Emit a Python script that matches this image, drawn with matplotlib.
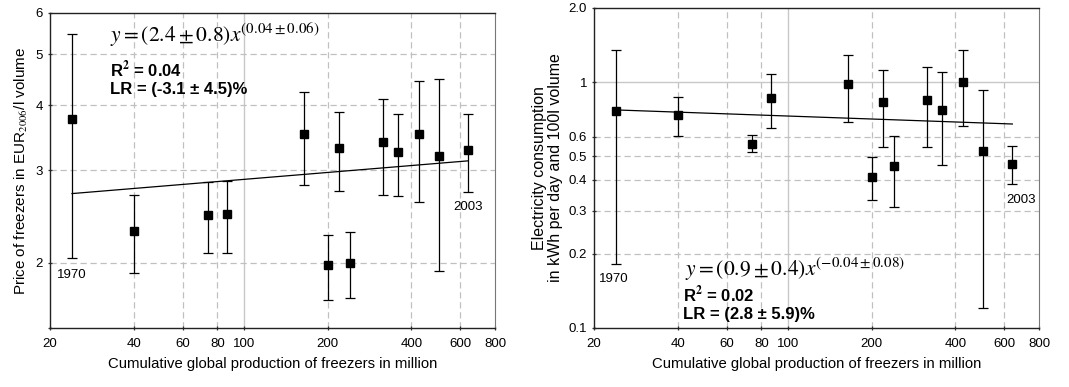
import numpy as np
import matplotlib.pyplot as plt
from matplotlib.ticker import FixedLocator, FixedFormatter, NullLocator

plt.rcParams['font.family'] = ['Liberation Sans', 'DejaVu Sans']
plt.rcParams['mathtext.fontset'] = 'stix'

# cumulative production (million) per data point, 1970 ... 2003
prod = [24, 40, 74, 87, 164, 201, 220, 241, 315, 357, 427, 501, 641]

# price of freezers (EUR2006 / l volume)
price = [3.76, 2.30, 2.47, 2.48, 3.53, 1.98, 3.31, 2.00, 3.40, 3.26, 3.53, 3.20, 3.29]
price_hi = [5.48, 2.69, 2.85, 2.86, 4.23, 2.26, 3.88, 2.29, 4.11, 3.84, 4.45, 4.48, 3.85]
price_lo = [2.04, 1.91, 2.09, 2.09, 2.82, 1.70, 2.74, 1.71, 2.69, 2.68, 2.61, 1.93, 2.73]

# electricity consumption (kWh per day and 100 l volume)
elec = [0.765, 0.737, 0.562, 0.861, 0.985, 0.412, 0.832, 0.457, 0.843, 0.772, 1.00, 0.526, 0.466]
elec_hi = [1.345, 0.867, 0.607, 1.078, 1.284, 0.494, 1.119, 0.605, 1.148, 1.095, 1.345, 0.931, 0.548]
elec_lo = [0.182, 0.605, 0.520, 0.652, 0.690, 0.332, 0.546, 0.310, 0.546, 0.459, 0.660, 0.121, 0.386]

# fitted power-law lines (end points)
fit_x = [24, 641]
price_fit = [2.71, 3.13]
elec_fit = [0.770, 0.675]

xticks = [20, 40, 60, 80, 100, 200, 400, 600, 800]


def draw(ax, y, hi, lo, fit, ylim, yticks, ylabels, grid_major):
    ax.set_xscale('log')
    ax.set_yscale('log')
    ax.set_xlim(20, 800)
    ax.set_ylim(*ylim)

    # grid: decade lines solid, others dashed
    for gx in [40, 60, 80, 200, 400, 600]:
        ax.axvline(gx, color='#c0c0c0', lw=0.9, ls=(0, (5, 3)), zorder=0)
    ax.axvline(100, color='#c8c8c8', lw=1.0, zorder=0)
    for gy in yticks[1:-1]:
        if gy == grid_major:
            ax.axhline(gy, color='#c8c8c8', lw=1.0, zorder=0)
        else:
            ax.axhline(gy, color='#c0c0c0', lw=0.9, ls=(0, (5, 3)), zorder=0)

    y = np.array(y)
    err = [y - np.array(lo), np.array(hi) - y]
    ax.errorbar(prod, y, yerr=err, fmt='s', color='black', ms=5.5,
                ecolor='black', elinewidth=0.9, capsize=3.5, capthick=0.9, zorder=3)
    ax.plot(fit_x, fit, color='black', lw=0.9, zorder=2)

    ax.xaxis.set_major_locator(FixedLocator(xticks))
    ax.xaxis.set_major_formatter(FixedFormatter([str(t) for t in xticks]))
    ax.xaxis.set_minor_locator(NullLocator())
    ax.yaxis.set_major_locator(FixedLocator(yticks))
    ax.yaxis.set_major_formatter(FixedFormatter(ylabels))
    ax.yaxis.set_minor_locator(NullLocator())
    ax.tick_params(axis='both', labelsize=9.5, length=3, width=0.9, direction='inout', color='#333333')
    ax.tick_params(axis='x', pad=6)
    for side in ['left', 'bottom', 'top']:
        ax.spines[side].set_color('#222222')
        ax.spines[side].set_linewidth(1.0)
    ax.spines['right'].set_color('#777777')
    ax.set_xlabel('Cumulative global production of freezers in million', fontsize=10.7, labelpad=5)


fig = plt.figure(figsize=(10.69, 3.87), dpi=100)
ax1 = fig.add_axes([0.0468, 0.1525, 0.4163, 0.814])
ax2 = fig.add_axes([0.5557, 0.1525, 0.4163, 0.8269])

draw(ax1, price, price_hi, price_lo, price_fit, (1.5, 6),
     [1.5, 2, 3, 4, 5, 6], ['', '2', '3', '4', '5', '6'], None)
ax1.set_ylabel(r'Price of freezers in EUR$_{2006}$/l volume', fontsize=11, labelpad=4)
ax1.text(24, 1.89, '1970', fontsize=9.5, ha='center', va='center')
ax1.text(641, 2.56, '2003', fontsize=9.5, ha='center', va='center')
ax1.text(0.135, 0.93, r'$y=(2.4\pm0.8)x^{(0.04\pm0.06)}$', transform=ax1.transAxes,
         fontsize=15.5, ha='left', va='center')
ax1.text(0.135, 0.819, r'R$^\mathbf{2}$ = 0.04', transform=ax1.transAxes,
         fontsize=12, fontweight='bold', ha='left', va='center')
ax1.text(0.135, 0.756, 'LR = (-3.1 ± 4.5)%', transform=ax1.transAxes,
         fontsize=12, fontweight='bold', ha='left', va='center')

draw(ax2, elec, elec_hi, elec_lo, elec_fit, (0.1, 2.0),
     [0.1, 0.2, 0.3, 0.4, 0.5, 0.6, 1, 2.0],
     ['0.1', '0.2', '0.3', '0.4', '0.5', '0.6', '1', '2.0'], 1)
ax2.set_ylabel('Electricity consumption\nin kWh per day and 100l volume', fontsize=11.5,
               labelpad=4, linespacing=1.05)
ax2.text(23.6, 0.158, '1970', fontsize=9.5, ha='center', va='center')
ax2.text(691, 0.332, '2003', fontsize=9.5, ha='center', va='center')
ax2.text(0.2045, 0.183, r'$y=(0.9\pm0.4)x^{(-0.04\pm0.08)}$', transform=ax2.transAxes,
         fontsize=15.5, ha='left', va='center')
ax2.text(0.2, 0.104, r'R$^\mathbf{2}$ = 0.02', transform=ax2.transAxes,
         fontsize=12, fontweight='bold', ha='left', va='center')
ax2.text(0.2, 0.042, 'LR = (2.8 ± 5.9)%', transform=ax2.transAxes,
         fontsize=12, fontweight='bold', ha='left', va='center')

fig.savefig('out.png', dpi=100)
plt.close(fig)
